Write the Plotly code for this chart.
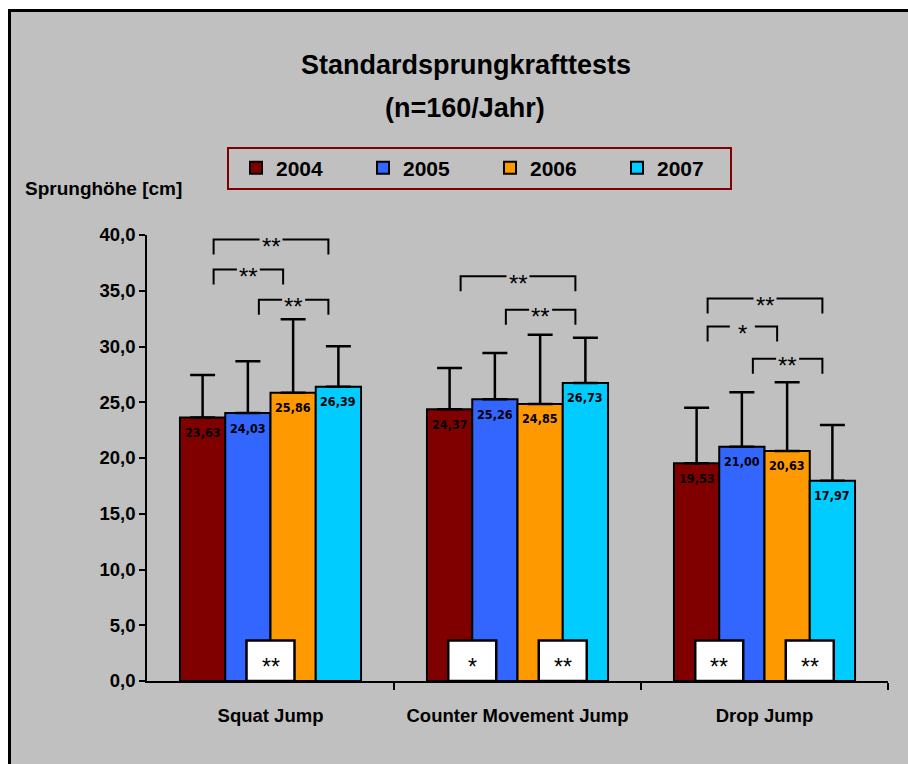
import plotly.graph_objects as go

# ---- data ---------------------------------------------------------------
categories = ["Squat Jump", "Counter Movement Jump", "Drop Jump"]
years = ["2004", "2005", "2006", "2007"]

mean_2004 = [23.63, 24.37, 19.53]
mean_2005 = [24.03, 25.26, 21.00]
mean_2006 = [25.86, 24.85, 20.63]
mean_2007 = [26.39, 26.73, 17.97]

sd_2004 = [3.81, 3.70, 4.98]
sd_2005 = [4.64, 4.16, 4.89]
sd_2006 = [6.58, 6.21, 6.16]
sd_2007 = [3.63, 4.06, 4.98]

# pairwise comparisons: (test, first year idx, second year idx, bracket level, label)
brackets = [
    (0, 0, 3, 39.6, "**"),
    (0, 0, 2, 36.9, "**"),
    (0, 1, 3, 34.2, "**"),
    (1, 0, 3, 36.3, "**"),
    (1, 1, 3, 33.3, "**"),
    (2, 0, 3, 34.3, "**"),
    (2, 0, 2, 31.8, "*"),
    (2, 1, 3, 28.9, "**"),
]
# comparisons between neighbouring years, boxed at the foot of the bars:
# (test, left year idx, label)
box_marks = [(0, 1, "**"), (1, 0, "*"), (1, 2, "**"), (2, 0, "**"), (2, 2, "**")]

# ---- styling ------------------------------------------------------------
means = [mean_2004, mean_2005, mean_2006, mean_2007]
sds = [sd_2004, sd_2005, sd_2006, sd_2007]
colors = ["#800000", "#3366ff", "#ff9900", "#00ccff"]
BG = "#c0c0c0"
FONT = "Liberation Sans, Arial, sans-serif"
NARROW = "Liberation Sans Narrow, Arial Narrow, DejaVu Sans Condensed, sans-serif"

W, H = 908, 764
ML, MR, MT, MB = 147, 20, 235, 83
PW, PH = W - ML - MR, H - MT - MB


def px_x(p):
    return (p - ML) / PW


def px_y(p):
    return (H - MB - p) / PH


GROUP = 0.733
BAR_W = GROUP / len(years)
X_PER_PX = 3.0 / PW
Y_PER_PX = 40.0 / PH


def bar_offset(k):
    return -GROUP / 2 + k * BAR_W


def bar_center(k):
    return bar_offset(k) + BAR_W / 2


fig = go.Figure()
xs = list(range(len(categories)))
for k, yr in enumerate(years):
    fig.add_trace(go.Bar(
        x=xs, y=means[k], name=yr,
        width=BAR_W, offset=bar_offset(k),
        marker=dict(color=colors[k], line=dict(color="black", width=2)),
        error_y=dict(type="data", array=sds[k], arrayminus=[0] * len(xs),
                     symmetric=False, color="black", thickness=2.5, width=12.5),
    ))

annotations = []
shapes = []

# value labels inside the bars
for k in range(len(years)):
    for i, v in enumerate(means[k]):
        annotations.append(dict(
            x=i + bar_center(k), y=v, xref="x", yref="y",
            text=f"{v:.2f}".replace(".", ","), showarrow=False,
            yanchor="middle", yshift=-15,
            font=dict(family=NARROW, size=12.5, color="black", weight="bold"),
        ))

# significance brackets
LEG = 15 * Y_PER_PX
for cat, a, b, level, lab in brackets:
    xl = cat + bar_center(a) + 11 * X_PER_PX
    xr = cat + bar_center(b) - 10 * X_PER_PX
    xm = (xl + xr) / 2
    gap = (11.5 if lab == "**" else 12.5) * X_PER_PX
    path = (f"M{xl},{level - LEG} L{xl},{level} L{xm - gap},{level} "
            f"M{xm + gap},{level} L{xr},{level} L{xr},{level - LEG}")
    shapes.append(dict(type="path", path=path, xref="x", yref="y",
                       line=dict(color="black", width=2), layer="above"))
    annotations.append(dict(
        x=xm, y=level, xref="x", yref="y", text=lab, showarrow=False,
        yanchor="middle", yshift=-7,
        font=dict(family=FONT, size=24, color="black"),
    ))

# boxed marks at the base
BOX_HALF = 24 * X_PER_PX
BOX_TOP = 40.5 * Y_PER_PX
for cat, k, lab in box_marks:
    xc = cat + bar_offset(k + 1)
    shapes.append(dict(type="rect", xref="x", yref="y",
                       x0=xc - BOX_HALF, x1=xc + BOX_HALF, y0=0, y1=BOX_TOP,
                       fillcolor="white", line=dict(color="black", width=2.5),
                       layer="above"))
    annotations.append(dict(
        x=xc, y=BOX_TOP / 2, xref="x", yref="y", text=lab, showarrow=False,
        yanchor="middle", yshift=-6,
        font=dict(family=FONT, size=23, color="black"),
    ))

# chart frame
shapes.append(dict(type="rect", xref="paper", yref="paper",
                   x0=px_x(9.5), x1=px_x(930), y0=px_y(790), y1=px_y(10.5),
                   fillcolor=BG, line=dict(color="black", width=3), layer="below"))
# legend frame
shapes.append(dict(type="rect", xref="paper", yref="paper",
                   x0=px_x(228), x1=px_x(731), y0=px_y(189), y1=px_y(148),
                   fillcolor="rgba(0,0,0,0)", line=dict(color="#800000", width=2),
                   layer="above"))

# titles
annotations.append(dict(x=px_x(466), y=px_y(65), xref="paper", yref="paper",
                        text="Standardsprungkrafttests", showarrow=False,
                        xanchor="center", yanchor="middle",
                        font=dict(family=FONT, size=27, color="black", weight="bold")))
annotations.append(dict(x=px_x(465), y=px_y(108), xref="paper", yref="paper",
                        text="(n=160/Jahr)", showarrow=False,
                        xanchor="center", yanchor="middle",
                        font=dict(family=FONT, size=27, color="black", weight="bold")))
annotations.append(dict(x=px_x(23), y=px_y(188), xref="paper", yref="paper",
                        text="Sprunghöhe [cm]", showarrow=False,
                        xanchor="left", yanchor="middle",
                        font=dict(family=FONT, size=19, color="black", weight="bold")))

fig.update_layout(
    width=W, height=H, autosize=False,
    margin=dict(l=ML, r=MR, t=MT, b=MB, pad=0),
    paper_bgcolor="white", plot_bgcolor="rgba(0,0,0,0)",
    barmode="overlay", separators=",.",
    showlegend=True,
    legend=dict(orientation="h", x=px_x(236), y=px_y(168),
                xanchor="left", yanchor="middle",
                bgcolor="rgba(0,0,0,0)", borderwidth=0,
                entrywidth=82, entrywidthmode="pixels",
                font=dict(family=FONT, size=21, color="black", weight="bold")),
    xaxis=dict(range=[-0.5, 2.5], tickmode="array", tickvals=xs, ticktext=categories,
               ticks="", showline=True, linecolor="black", linewidth=1.5,
               showgrid=False, zeroline=False, ticklabelstandoff=17,
               tickfont=dict(family=FONT, size=18.5, color="black", weight="bold"),
               minor=dict(tickmode="array", tickvals=[0.5, 1.5, 2.5], ticks="outside",
                          ticklen=7, tickwidth=1.5, tickcolor="black", showgrid=False)),
    yaxis=dict(range=[0, 40], dtick=5, tick0=0, tickformat=".1f",
               ticks="outside", ticklen=6, tickwidth=1.5, tickcolor="black",
               showline=True, linecolor="black", linewidth=1.5,
               showgrid=False, zeroline=False,
               tickfont=dict(family=FONT, size=18.5, color="black", weight="bold")),
    shapes=shapes,
    annotations=annotations,
)

fig.write_html("out.html")
